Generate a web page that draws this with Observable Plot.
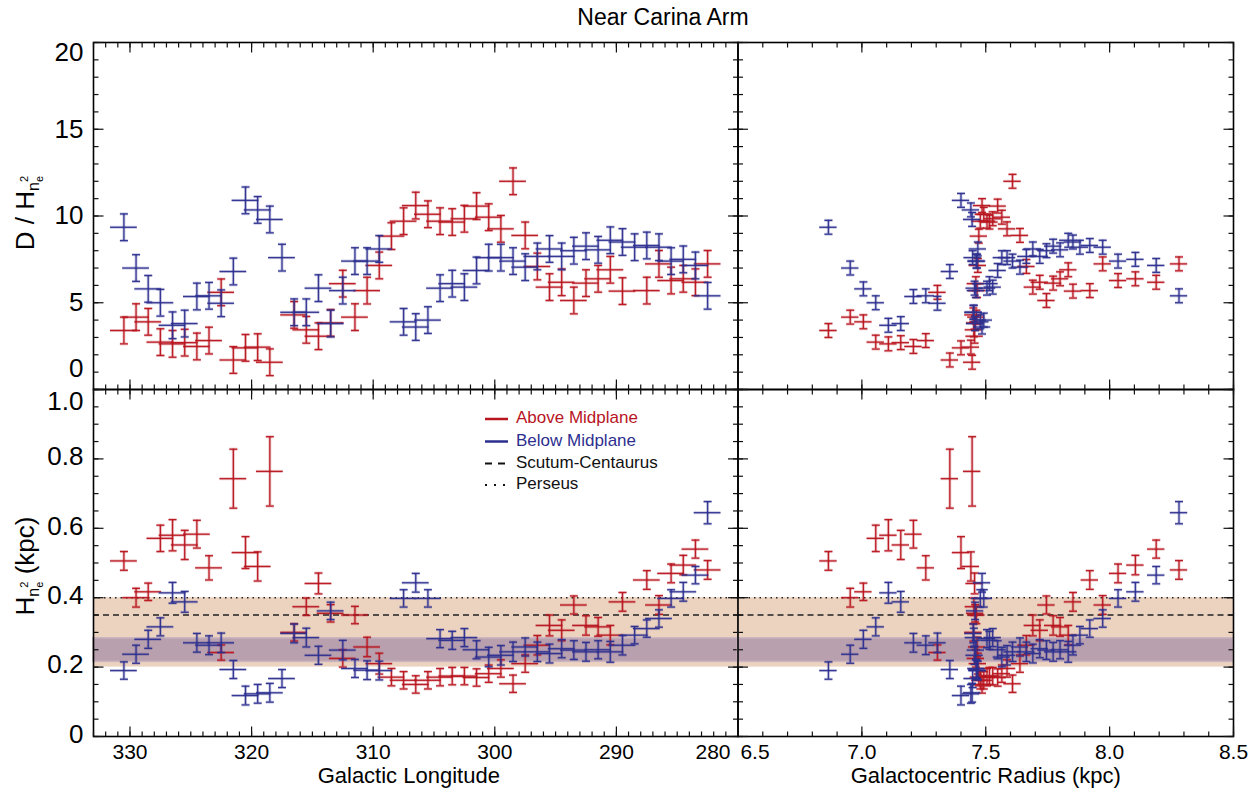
<!DOCTYPE html>
<html><head><meta charset="utf-8">
<script src="https://cdn.jsdelivr.net/npm/d3@7"></script>
<script src="https://cdn.jsdelivr.net/npm/@observablehq/plot@0.6"></script>
<style>
body{margin:0;background:#fff;}
#wrap{position:relative;width:1255px;height:796px;font-family:"Liberation Sans",Arial,Helvetica,sans-serif;}
#wrap svg{position:absolute;left:0;top:0;}
</style></head><body><div id="wrap"></div>
<script>
// ---------------- data ----------------
const blueLon = [330.5,329.5,328.5,327.5,326.5,325.5,324.5,323.5,322.5,321.5,320.5,319.5,318.5,317.5,316.5,315.5,314.5,313.5,312.5,311.5,310.5,309.5,307.5,306.5,305.5,304.5,303.5,302.5,301.5,300.5,299.5,298.5,297.5,296.5,295.5,294.5,293.5,292.5,291.5,290.5,289.5,288.5,287.5,286.5,285.5,284.5,283.5,282.5];
const blueDH = [9.35,7.0,5.8,5.0,3.7,3.8,5.36,5.4,4.97,6.8,10.9,10.35,9.8,7.6,4.45,4.45,5.84,3.8,5.7,7.4,7.4,8.1,3.9,3.6,4.0,5.84,6.1,5.9,6.86,7.6,7.6,7.4,7.05,7.67,8.1,7.67,8.0,8.26,8.05,8.6,8.5,8.2,8.3,8.2,7.4,7.5,7.15,5.4];
const blueH = [0.19,0.237,0.28,0.316,0.414,0.388,0.27,0.263,0.27,0.193,0.118,0.123,0.126,0.167,0.297,0.285,0.234,0.362,0.249,0.196,0.191,0.19,0.398,0.443,0.398,0.282,0.277,0.285,0.25,0.229,0.234,0.244,0.258,0.244,0.239,0.253,0.249,0.244,0.25,0.244,0.263,0.292,0.311,0.34,0.398,0.417,0.465,0.645];
const blueHerr = [0.025,0.026,0.026,0.026,0.03,0.03,0.027,0.027,0.028,0.026,0.027,0.027,0.027,0.026,0.027,0.027,0.026,0.025,0.028,0.026,0.027,0.027,0.025,0.027,0.025,0.026,0.026,0.026,0.026,0.028,0.028,0.028,0.026,0.028,0.027,0.026,0.027,0.027,0.026,0.03,0.028,0.025,0.025,0.025,0.025,0.027,0.025,0.032];

const redLon = [330.5,329.5,328.5,327.5,326.5,325.5,324.5,323.5,322.5,321.5,320.5,319.5,318.5,316.5,315.5,314.5,313.5,312.5,311.5,310.5,309.5,308.5,307.5,306.5,305.5,304.5,303.5,302.5,301.5,300.5,299.5,298.5,297.5,296.5,295.5,294.5,293.5,292.5,291.5,290.5,289.5,287.5,286.5,285.5,284.5,283.5,282.5];
const redDH = [3.4,4.17,3.9,2.73,2.63,2.7,2.48,2.82,5.6,1.7,2.4,2.44,1.57,4.3,3.44,3.07,3.84,6.1,4.17,5.7,7.15,8.84,9.7,10.6,10.1,9.7,9.65,9.84,10.57,9.93,9.26,12.0,8.88,7.09,5.9,6.18,5.13,6.13,6.38,6.9,5.67,5.7,7.24,6.28,6.38,6.18,7.24];
const redH = [0.506,0.40,0.417,0.571,0.58,0.552,0.583,0.486,0.242,0.743,0.53,0.49,0.764,0.30,0.374,0.441,0.355,0.225,0.35,0.258,0.21,0.171,0.162,0.150,0.162,0.171,0.174,0.174,0.17,0.181,0.196,0.152,0.21,0.263,0.32,0.306,0.379,0.32,0.316,0.292,0.388,0.451,0.379,0.47,0.494,0.54,0.48];
const redHerr = [0.027,0.027,0.025,0.038,0.045,0.042,0.04,0.035,0.022,0.085,0.046,0.042,0.1,0.025,0.025,0.03,0.025,0.025,0.025,0.028,0.03,0.025,0.025,0.025,0.025,0.025,0.025,0.025,0.025,0.025,0.025,0.025,0.025,0.028,0.03,0.03,0.026,0.028,0.027,0.028,0.027,0.027,0.027,0.027,0.028,0.026,0.027];

// galactocentric radius of each longitude bin (kpc)
const radLon = [330.5,329.5,328.5,327.5,326.5,325.5,324.5,323.5,322.5,321.5,320.5,319.5,318.5,317.5,316.5,315.5,314.5,313.5,312.5,311.5,310.5,309.5,308.5,307.5,306.5,305.5,304.5,303.5,302.5,301.5,300.5,299.5,298.5,297.5,296.5,295.5,294.5,293.5,292.5,291.5,290.5,289.5,288.5,287.5,286.5,285.5,284.5,283.5,282.5];
const radVal = [6.865,6.953,7.006,7.056,7.107,7.157,7.208,7.258,7.305,7.355,7.40,7.44,7.445,7.447,7.45,7.452,7.455,7.457,7.46,7.462,7.465,7.468,7.472,7.478,7.485,7.492,7.505,7.515,7.528,7.548,7.565,7.586,7.608,7.638,7.664,7.69,7.718,7.745,7.772,7.80,7.833,7.852,7.88,7.92,7.972,8.034,8.104,8.188,8.28];

const lonErr = 1.1;      // deg
const radErr = 0.035;    // kpc
const dhErrLon = 0.77;   // D/H error, longitude panel
const dhErrRad = 0.4;    // D/H error, radius panel

const orangeBand = [0.20, 0.40];
const purpleBand = [0.215, 0.283];
const scutumH = [0.35];
const perseusH = [0.40];

const lonTicks = [330,320,310,300,290,280];
const radTicks = [6.5,7.0,7.5,8.0,8.5];
const dhTicks = [0,5,10,15,20];
const hTicks = [0,0.2,0.4,0.6,0.8,1.0];

// ---------------- build records ----------------
const radOf = new Map(radLon.map((l,i)=>[l, radVal[i]]));
const blue = blueLon.map((l,i)=>({lon:l, R:radOf.get(l), dh:blueDH[i], h:blueH[i], he:blueHerr[i]}));
const red = redLon.map((l,i)=>({lon:l, R:radOf.get(l), dh:redDH[i], h:redH[i], he:redHerr[i]}));

const RED = "#b8151f", BLUE = "#2d2f8f";
const W = 1255, H = 796;
const xL = 93, xM = 737.5, xR = 1233, yT = 42, yM = 389, yB = 736;
const fontFam = '"Liberation Sans", Arial, Helvetica, sans-serif';

const sym = f => ({draw(ctx, size){ const r = Math.sqrt(size/Math.PI); f(ctx, r); }});
const tUp = sym((c,r)=>{c.moveTo(0,0); c.lineTo(0,-r);});
const tDown = sym((c,r)=>{c.moveTo(0,0); c.lineTo(0,r);});
const tRight = sym((c,r)=>{c.moveTo(0,0); c.lineTo(r,0);});
const tLeft = sym((c,r)=>{c.moveTo(0,0); c.lineTo(-r,0);});
const hbar = sym((c,r)=>{c.moveTo(-r,0); c.lineTo(r,0);});

function crosses(data, color, xk, xe, yk, yeFn) {
  const layer = (sw, op) => [
    Plot.ruleY(data, {y: d=>d[yk], x1: d=>d[xk]-xe, x2: d=>d[xk]+xe, stroke: color, strokeWidth: sw, strokeOpacity: op}),
    Plot.ruleX(data, {x: d=>d[xk], y1: d=>d[yk]-yeFn(d), y2: d=>d[yk]+yeFn(d), stroke: color, strokeWidth: sw, strokeOpacity: op}),
    Plot.dot(data, {x: d=>d[xk], y: d=>d[yk]+yeFn(d), symbol: hbar, r: 4, fill: "none", stroke: color, strokeWidth: sw, strokeOpacity: op}),
    Plot.dot(data, {x: d=>d[xk], y: d=>d[yk]-yeFn(d), symbol: hbar, r: 4, fill: "none", stroke: color, strokeWidth: sw, strokeOpacity: op})
  ];
  return [...layer(3.0, 0.25), ...layer(1.3, 0.95)];
}

function ticks(xMajor, xMinor, yMajor, yMinor) {
  const s = {fill: "none", stroke: "#111", strokeWidth: 1.2};
  const m = [];
  for (const [arr, len] of [[xMinor,5],[xMajor,10]]) {
    m.push(Plot.dot(arr, {x: d=>d, frameAnchor: "bottom", symbol: tUp, r: len, ...s}));
    m.push(Plot.dot(arr, {x: d=>d, frameAnchor: "top", symbol: tDown, r: len, ...s}));
  }
  for (const [arr, len] of [[yMinor,5],[yMajor,10]]) {
    m.push(Plot.dot(arr, {y: d=>d, frameAnchor: "left", symbol: tRight, r: len, ...s}));
    m.push(Plot.dot(arr, {y: d=>d, frameAnchor: "right", symbol: tLeft, r: len, ...s}));
  }
  return m;
}

function panel(box, xDomain, yDomain, marks) {
  const [x0,x1,y0,y1] = box;
  return Plot.plot({
    width: W, height: H,
    marginLeft: x0, marginRight: W-x1, marginTop: y0, marginBottom: H-y1,
    x: {domain: xDomain, axis: null}, y: {domain: yDomain, axis: null},
    style: {background: "transparent", overflow: "visible", fontFamily: fontFam, color: "#000"},
    marks
  });
}

const lonMinor = d3.range(280, 334, 1);
const radMinor = d3.range(65, 86, 1).map(v=>v/10);
const dhMinor = d3.range(0, 21, 1);
const hMinor = d3.range(0, 21, 1).map(v=>v/20);

const bandMarks = [
  Plot.rect([orangeBand], {y1: d=>d[0], y2: d=>d[1], fill: "#ecd3c0"}),
  Plot.rect([purpleBand], {y1: d=>d[0], y2: d=>d[1], fill: "#b9a0ae", stroke: "#cbb5c1", strokeWidth: 1.5}),
  Plot.ruleY(scutumH, {stroke: "#222", strokeWidth: 1.5, strokeDasharray: "6,4"}),
  Plot.ruleY(perseusH, {stroke: "#222", strokeWidth: 1.5, strokeDasharray: "1.5,4"})
];

const txt = {fill: "#000", fontFamily: fontFam};
const dhLabels = [
  Plot.text(dhTicks.filter(v=>v>0 && v<20), {y: d=>d, frameAnchor: "left", dx: -10, textAnchor: "end", text: d=>String(d), fontSize: 26, ...txt}),
  Plot.text(dhTicks.filter(v=>v===20), {y: d=>d, frameAnchor: "left", dx: -10, dy: 10, textAnchor: "end", text: d=>String(d), fontSize: 26, ...txt}),
  Plot.text(dhTicks.filter(v=>v===0), {y: d=>d, frameAnchor: "left", dx: -10, dy: -21, textAnchor: "end", text: d=>String(d), fontSize: 26, ...txt})
];
const hFmt = d => d === 0 ? "0" : d.toFixed(1);
const hLabels = [
  Plot.text(hTicks.filter(v=>v<1), {y: d=>d, frameAnchor: "left", dx: -10, dy: -2, textAnchor: "end", text: hFmt, fontSize: 26, ...txt}),
  Plot.text(hTicks.filter(v=>v===1), {y: d=>d, frameAnchor: "left", dx: -10, dy: 12, textAnchor: "end", text: hFmt, fontSize: 26, ...txt})
];

const wrap = document.getElementById("wrap");

// top-left: D/H vs longitude
wrap.appendChild(panel([xL,xM,yT,yM], [333,280], [0,20], [
  ...crosses(red, RED, "lon", lonErr, "dh", ()=>dhErrLon),
  ...crosses(blue, BLUE, "lon", lonErr, "dh", ()=>dhErrLon),
  Plot.frame({stroke: "#000", strokeWidth: 1.6}),
  ...ticks(lonTicks, lonMinor, dhTicks, dhMinor),
  ...dhLabels
]));

// top-right: D/H vs radius
wrap.appendChild(panel([xM,xR,yT,yM], [6.5,8.5], [0,20], [
  ...crosses(red, RED, "R", radErr, "dh", ()=>dhErrRad),
  ...crosses(blue, BLUE, "R", radErr, "dh", ()=>dhErrRad),
  Plot.frame({stroke: "#000", strokeWidth: 1.6}),
  ...ticks(radTicks, radMinor, dhTicks, dhMinor)
]));

// bottom-left: H vs longitude
wrap.appendChild(panel([xL,xM,yM,yB], [333,280], [0,1], [
  ...bandMarks,
  ...crosses(red, RED, "lon", lonErr, "h", d=>d.he),
  ...crosses(blue, BLUE, "lon", lonErr, "h", d=>d.he),
  Plot.frame({stroke: "#000", strokeWidth: 1.6}),
  ...ticks(lonTicks, lonMinor, hTicks, hMinor),
  ...hLabels,
  Plot.text(lonTicks.filter(v=>v!==280), {x: d=>d, frameAnchor: "bottom", dy: 22, text: d=>String(d), fontSize: 21, ...txt}),
  Plot.text(lonTicks.filter(v=>v===280), {x: d=>d, frameAnchor: "bottom", dy: 22, dx: -25, text: d=>String(d), fontSize: 21, ...txt}),
  Plot.text(["Galactic Longitude"], {frameAnchor: "bottom", dy: 46, dx: -7, text: d=>d, fontSize: 22, ...txt})
]));

// bottom-right: H vs radius
wrap.appendChild(panel([xM,xR,yM,yB], [6.5,8.5], [0,1], [
  ...bandMarks,
  ...crosses(red, RED, "R", radErr, "h", d=>d.he),
  ...crosses(blue, BLUE, "R", radErr, "h", d=>d.he),
  Plot.frame({stroke: "#000", strokeWidth: 1.6}),
  ...ticks(radTicks, radMinor, hTicks, hMinor),
  Plot.text(radTicks.filter(v=>v!==6.5), {x: d=>d, frameAnchor: "bottom", dy: 22, text: d=>d.toFixed(1), fontSize: 21, ...txt}),
  Plot.text(radTicks.filter(v=>v===6.5), {x: d=>d, frameAnchor: "bottom", dy: 22, dx: 17, text: d=>d.toFixed(1), fontSize: 21, ...txt}),
  Plot.text(["Galactocentric Radius (kpc)"], {frameAnchor: "bottom", dy: 46, text: d=>d, fontSize: 22, ...txt})
]));

// overlay: title, axis titles, legend
const ov = `
<svg xmlns="http://www.w3.org/2000/svg" width="${W}" height="${H}" style="font-family:${fontFam.replace(/"/g,"'")}">
  <text x="663" y="19" text-anchor="middle" dominant-baseline="middle" font-size="23">Near Carina Arm</text>
  <text transform="translate(34,213) rotate(-90)" text-anchor="middle" font-size="26">D / H<tspan font-size="16" dy="5">n</tspan><tspan font-size="11" dy="4">e</tspan><tspan font-size="11" dx="-6" dy="-15">2</tspan></text>
  <text transform="translate(34,566) rotate(-90)" text-anchor="middle" font-size="26">H<tspan font-size="16" dy="5">n</tspan><tspan font-size="11" dy="4">e</tspan><tspan font-size="11" dx="-6" dy="-15">2</tspan><tspan font-size="26" dy="6"> (kpc)</tspan></text>
  <g font-size="17" dominant-baseline="middle">
    <line x1="485" x2="508" y1="419" y2="419" stroke="${RED}" stroke-width="2.5"/>
    <text x="516" y="419" fill="${RED}">Above Midplane</text>
    <line x1="485" x2="508" y1="441.5" y2="441.5" stroke="${BLUE}" stroke-width="2.5"/>
    <text x="516" y="441.5" fill="${BLUE}">Below Midplane</text>
    <line x1="485" x2="510" y1="463.5" y2="463.5" stroke="#111" stroke-width="2" stroke-dasharray="7,6"/>
    <text x="516" y="463.5" fill="#111">Scutum-Centaurus</text>
    <line x1="485" x2="510" y1="485" y2="485" stroke="#111" stroke-width="2" stroke-dasharray="2,7"/>
    <text x="516" y="485" fill="#111">Perseus</text>
  </g>
</svg>`;
wrap.insertAdjacentHTML("beforeend", ov);
</script>
</body></html>
